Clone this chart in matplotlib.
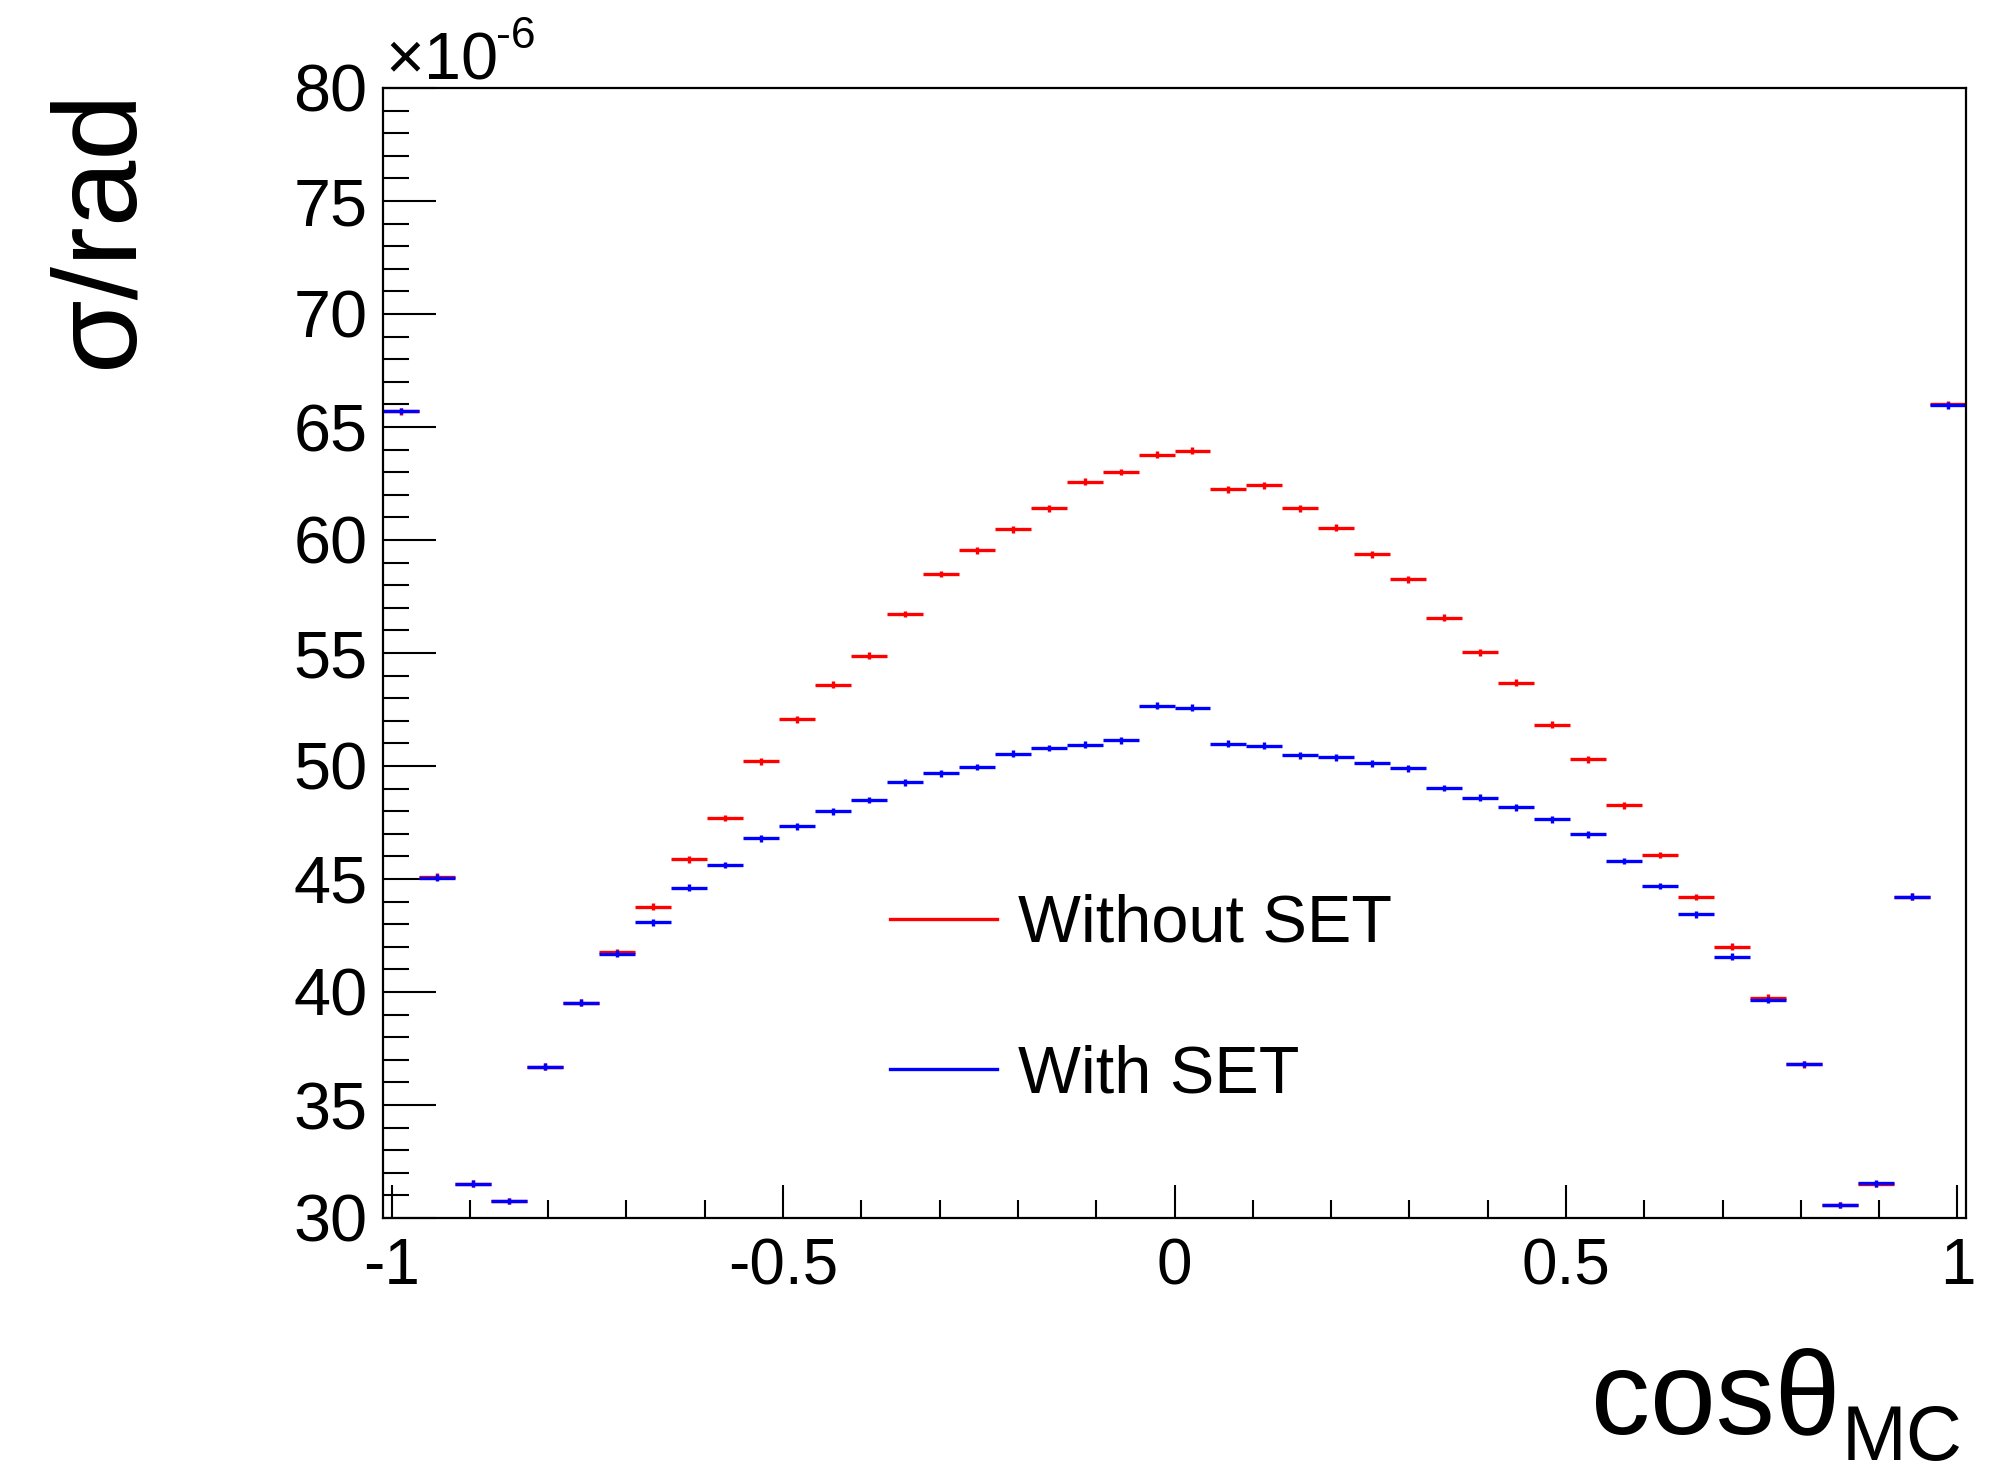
import numpy as np
import matplotlib
matplotlib.use("Agg")
import matplotlib.pyplot as plt
from matplotlib.lines import Line2D
from matplotlib.ticker import MultipleLocator

plt.rcParams['font.family'] = ['Liberation Sans', 'DejaVu Sans']
plt.rcParams['axes.unicode_minus'] = False

# Histogram binning in cos(theta_MC)
x_lo, x_hi = -1.011, 1.011
n_bins = 44

# Angular resolution per bin, in units of 1e-6 rad
sigma_without_set = [
    65.70, 45.10, 31.51, 30.75, 36.69, 39.53, 41.75, 43.77, 45.87, 47.70,
    50.20, 52.07, 53.60, 54.88, 56.73, 58.50, 59.54, 60.47, 61.41, 62.58,
    63.01, 63.78, 63.95, 62.24, 62.42, 61.41, 60.54, 59.37, 58.26, 56.57,
    55.03, 53.68, 51.82, 50.30, 48.26, 46.06, 44.20, 42.00, 39.75, 36.80,
    30.58, 31.50, 44.21, 66.00,
]
sigma_with_set = [
    65.71, 45.05, 31.51, 30.75, 36.69, 39.53, 41.70, 43.08, 44.61, 45.62,
    46.80, 47.33, 48.00, 48.50, 49.27, 49.68, 49.96, 50.55, 50.80, 50.95,
    51.14, 52.67, 52.58, 50.98, 50.89, 50.48, 50.38, 50.12, 49.89, 49.03,
    48.60, 48.17, 47.65, 46.98, 45.80, 44.69, 43.43, 41.57, 39.65, 36.81,
    30.58, 31.54, 44.21, 65.96,
]
sigma_err = 0.15

series_labels = ["Without SET", "With SET"]
series_colors = ["#ff0000", "#0000ff"]

edges = np.linspace(x_lo, x_hi, n_bins + 1)
centers = 0.5 * (edges[:-1] + edges[1:])
half_width = 0.5 * (edges[1:] - edges[:-1])

fig = plt.figure(figsize=(20.10, 14.77), dpi=100)
ax = fig.add_axes([383 / 2010, 1 - 1218 / 1477, (1966 - 383) / 2010, (1218 - 88) / 1477])

for vals, color in zip([sigma_without_set, sigma_with_set], series_colors):
    ax.errorbar(centers, vals, xerr=half_width, yerr=sigma_err, fmt='none',
                ecolor=color, elinewidth=2.4, capsize=0)

ax.set_xlim(x_lo, x_hi)
ax.set_ylim(30, 80)

ax.xaxis.set_major_locator(MultipleLocator(0.5))
ax.xaxis.set_minor_locator(MultipleLocator(0.1))
ax.yaxis.set_major_locator(MultipleLocator(5))
ax.yaxis.set_minor_locator(MultipleLocator(1))
ax.xaxis.set_major_formatter(plt.FuncFormatter(lambda v, p: f"{v:g}"))
ax.yaxis.set_major_formatter(plt.FuncFormatter(lambda v, p: f"{v:g}"))

ax.tick_params(axis='y', which='major', direction='in', length=38, width=1.5,
               labelsize=48, pad=11, right=False)
ax.tick_params(axis='y', which='minor', direction='in', length=19, width=1.5, right=False)
ax.tick_params(axis='x', which='major', direction='in', length=24, width=1.5,
               labelsize=46, pad=14, top=False)
ax.tick_params(axis='x', which='minor', direction='in', length=13, width=1.5, top=False)
for sp in ax.spines.values():
    sp.set_linewidth(1.6)

ax.set_ylabel("σ/rad", fontsize=86, loc='top')
ax.yaxis.set_label_coords(-0.143, 1.0)

# x-axis title: cos(theta) with an "MC" subscript
ax.set_xlabel("cosθ", fontsize=85, loc='right')
ax.xaxis.label.set_va('baseline')
ax.xaxis.set_label_coords((1840 - 383) / 1583, (1218 - 1433) / 1130)
ax.text((1963 - 383) / 1583, (1218 - 1460) / 1130, "MC", transform=ax.transAxes,
        ha='right', va='baseline', fontsize=56)

# Axis multiplier
fig.text(385 / 2010, 1 - 80 / 1477, "×10", fontsize=48, ha='left', va='baseline')
fig.text(496 / 2010, 1 - 48 / 1477, "-6", fontsize=32, ha='left', va='baseline')

handles = [Line2D([], [], color=c, lw=2.4) for c in series_colors]
ax.legend(handles, series_labels, loc='upper left',
          bbox_to_anchor=(890 / 2010, 1 - 894 / 1477), bbox_transform=fig.transFigure,
          frameon=False, fontsize=48, borderpad=0, borderaxespad=0,
          handlelength=1.6, handletextpad=0.315, labelspacing=1.33)

fig.savefig("out.png", dpi=100)
